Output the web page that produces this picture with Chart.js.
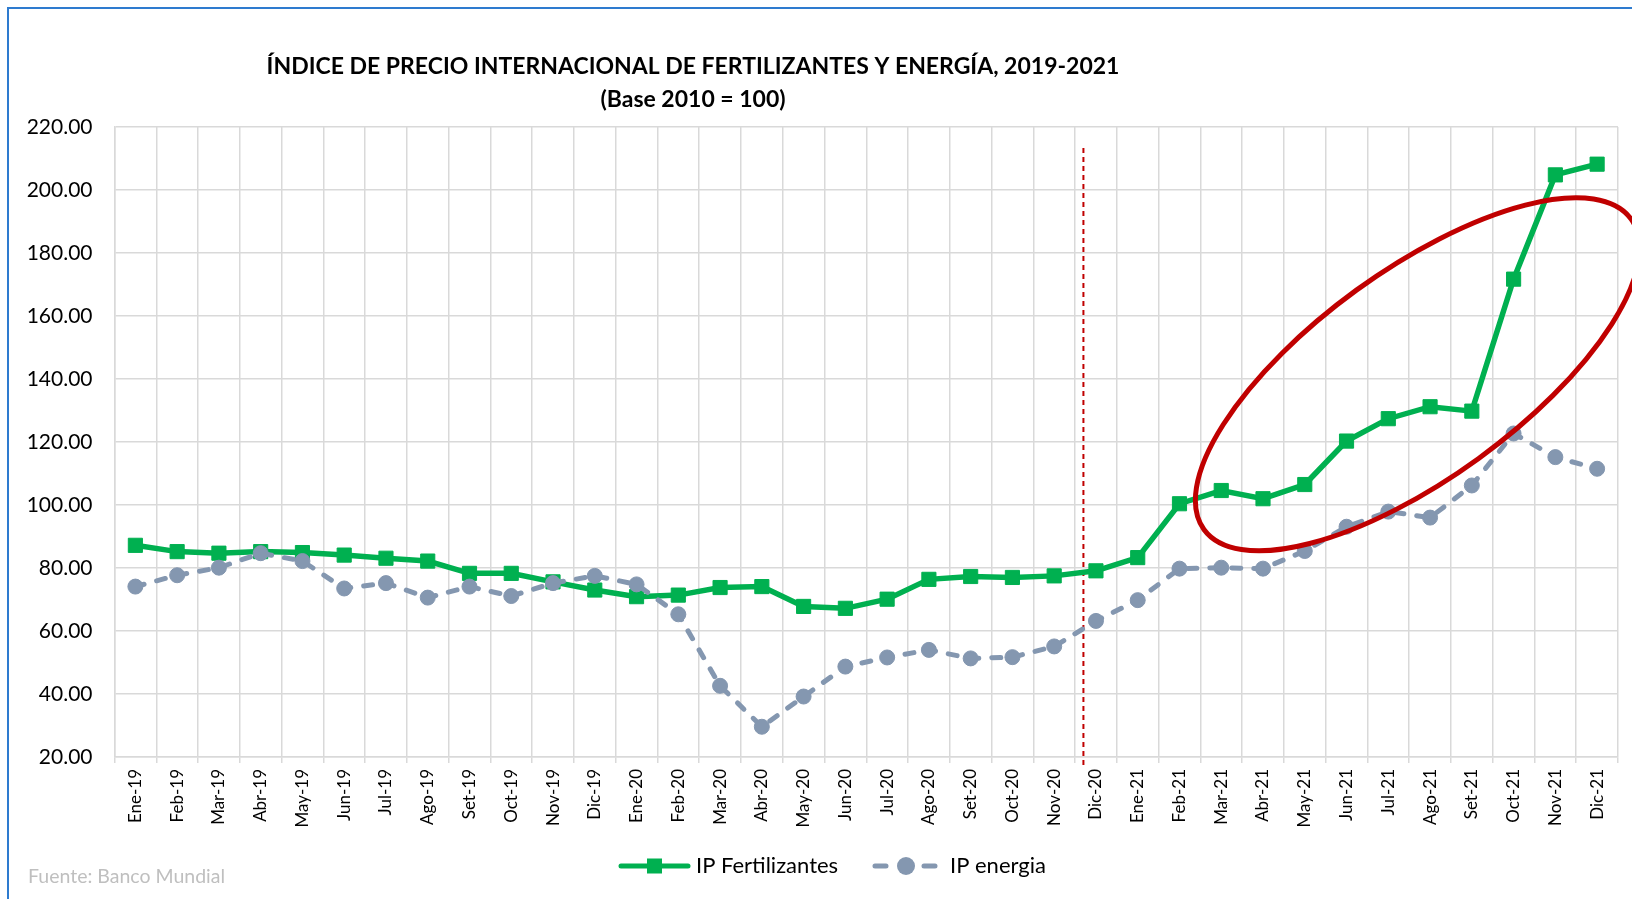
<!DOCTYPE html>
<html>
<head>
<meta charset="utf-8">
<script src="https://cdn.jsdelivr.net/npm/chart.js@4.4.0/dist/chart.umd.min.js"></script>
<style>
  html, body { margin: 0; padding: 0; background: #fff; }
  #wrap { position: relative; width: 1632px; height: 899px; }
</style>
</head>
<body>
<div id="wrap"><canvas id="chart" width="1632" height="899"></canvas></div>
<script>
const months = ['Ene-19', 'Feb-19', 'Mar-19', 'Abr-19', 'May-19', 'Jun-19', 'Jul-19', 'Ago-19', 'Set-19', 'Oct-19', 'Nov-19', 'Dic-19',
                'Ene-20', 'Feb-20', 'Mar-20', 'Abr-20', 'May-20', 'Jun-20', 'Jul-20', 'Ago-20', 'Set-20', 'Oct-20', 'Nov-20', 'Dic-20',
                'Ene-21', 'Feb-21', 'Mar-21', 'Abr-21', 'May-21', 'Jun-21', 'Jul-21', 'Ago-21', 'Set-21', 'Oct-21', 'Nov-21', 'Dic-21'];

const fertilizantes = [87.2, 85.2, 84.7, 85.2, 84.9, 84.1, 83.1, 82.2, 78.3, 78.3, 75.6, 73.0,
                       70.9, 71.4, 73.8, 74.1, 67.8, 67.2, 70.1, 76.4, 77.3, 77.0, 77.5, 79.1,
                       83.3, 100.4, 104.6, 102.0, 106.5, 120.3, 127.4, 131.2, 129.8, 171.7, 204.8, 208.2];

const energia = [74.1, 77.7, 80.1, 84.7, 82.2, 73.5, 75.2, 70.6, 74.1, 71.1, 75.2, 77.5,
                 74.8, 65.3, 42.6, 29.6, 39.2, 48.7, 51.6, 54.0, 51.3, 51.7, 55.1, 63.2,
                 69.8, 79.8, 80.1, 79.8, 85.4, 93.1, 97.9, 96.0, 106.2, 122.7, 115.2, 111.5];

const seriesNames = ['IP Fertilizantes', 'IP energia'];
const yMin = 20;
const yMax = 220;
const yStep = 20;

const titleLines = ['ÍNDICE DE PRECIO INTERNACIONAL DE FERTILIZANTES Y ENERGÍA, 2019-2021', '(Base 2010 = 100)'];
const sourceNote = 'Fuente: Banco Mundial';

// dashed divider between Nov-20 and Dic-20 (category position), top value
const dividerAt = 22.7;
const dividerTop = 213.3;
// red highlight ellipse centre (category position, value)
const highlightAt = { x: 30.7, y: 141.5 };

const GREEN = '#00B050';
const SLATE = '#8497B0';
const RED = '#C00000';

const decorations = {
    id: 'decorations',
    beforeDraw(chart) {
        const ctx = chart.ctx;
        ctx.save();
        ctx.fillStyle = '#fff';
        ctx.fillRect(0, 0, chart.width, chart.height);

        // frame of the chart object
        ctx.strokeStyle = '#2E7BCF';
        ctx.lineWidth = 2;
        ctx.strokeRect(8, 8, chart.width + 20, chart.height + 20);

        ctx.fillStyle = '#000';
        ctx.textAlign = 'center';
        ctx.textBaseline = 'middle';
        ctx.font = 'bold 23px Lato';
        ctx.fillText(titleLines[0], 693, 67);
        ctx.fillText(titleLines[1], 693, 100);

        ctx.fillStyle = '#BFBFBF';
        ctx.textAlign = 'left';
        ctx.font = '19.5px Lato';
        ctx.fillText(sourceNote, 28, 877);
        ctx.restore();
    },
    beforeDatasetsDraw(chart) {
        const { ctx, scales: { x, y }, chartArea } = chart;
        const px = x.getPixelForValue(dividerAt);
        ctx.save();
        ctx.strokeStyle = RED;
        ctx.lineWidth = 2;
        ctx.setLineDash([5, 4]);
        ctx.beginPath();
        ctx.moveTo(px, y.getPixelForValue(dividerTop));
        ctx.lineTo(px, chartArea.bottom + 8);
        ctx.stroke();
        ctx.restore();
    },
    afterDatasetsDraw(chart) {
        const { ctx, scales: { x, y } } = chart;
        const cx = x.getPixelForValue(highlightAt.x);
        const cy = y.getPixelForValue(highlightAt.y);
        ctx.save();
        ctx.strokeStyle = RED;
        ctx.lineWidth = 5;
        ctx.beginPath();
        ctx.ellipse(cx, cy, 264, 104, -36 * Math.PI / 180, 0, Math.PI * 2);
        ctx.stroke();
        ctx.restore();
    },
    afterDraw(chart) {
        const ctx = chart.ctx;
        const ds = chart.data.datasets;
        const cy = 866;
        ctx.save();
        ctx.lineCap = 'round';

        // fertilizantes: solid line with square marker
        ctx.strokeStyle = ds[0].borderColor;
        ctx.lineWidth = 5;
        ctx.beginPath();
        ctx.moveTo(621, cy);
        ctx.lineTo(688, cy);
        ctx.stroke();
        ctx.fillStyle = ds[0].backgroundColor;
        ctx.fillRect(647, cy - 7.5, 15, 15);

        // energia: dashed line with circle marker
        ctx.strokeStyle = ds[1].borderColor;
        ctx.beginPath();
        ctx.moveTo(875, cy);
        ctx.lineTo(886, cy);
        ctx.moveTo(924, cy);
        ctx.lineTo(935, cy);
        ctx.stroke();
        ctx.fillStyle = ds[1].backgroundColor;
        ctx.beginPath();
        ctx.arc(906, cy, 9, 0, Math.PI * 2);
        ctx.fill();

        ctx.fillStyle = '#000';
        ctx.font = '22px Lato';
        ctx.textAlign = 'left';
        ctx.textBaseline = 'middle';
        ctx.fillText(ds[0].label, 696, cy);
        ctx.fillText(ds[1].label, 950, cy);
        ctx.restore();
    }
};

const ctx = document.getElementById('chart').getContext('2d');

new Chart(ctx, {
    type: 'line',
    data: {
        labels: months,
        datasets: [
            {
                label: seriesNames[0],
                data: fertilizantes,
                borderColor: GREEN,
                backgroundColor: GREEN,
                borderWidth: 5.5,
                pointStyle: 'rect',
                pointRadius: 10,
                pointBorderWidth: 1,
                tension: 0,
                order: 1
            },
            {
                label: seriesNames[1],
                data: energia,
                borderColor: SLATE,
                backgroundColor: SLATE,
                borderWidth: 5,
                borderDash: [9, 13],
                borderCapStyle: 'round',
                pointStyle: 'circle',
                pointRadius: 7.5,
                pointBorderWidth: 1,
                tension: 0,
                order: 0
            }
        ]
    },
    options: {
        responsive: false,
        animation: false,
        layout: {
            padding: { top: 127, right: 14, bottom: 0, left: 0 }
        },
        plugins: {
            legend: { display: false },
            title: { display: false },
            tooltip: { enabled: false }
        },
        scales: {
            x: {
                offset: true,
                grid: {
                    color: '#D9D9D9',
                    lineWidth: 1.5,
                    offset: true,
                    drawTicks: true,
                    tickLength: 6
                },
                border: { color: '#D9D9D9', width: 1.5 },
                ticks: {
                    autoSkip: false,
                    minRotation: 90,
                    maxRotation: 90,
                    padding: 6,
                    color: '#000',
                    font: { family: 'Lato', size: 17 }
                },
                afterFit(scale) {
                    scale.height = 142;
                }
            },
            y: {
                min: yMin,
                max: yMax,
                grid: {
                    color: '#D9D9D9',
                    lineWidth: 1.5,
                    drawTicks: false
                },
                border: { color: '#D9D9D9', width: 1.5 },
                ticks: {
                    stepSize: yStep,
                    padding: 22,
                    color: '#000',
                    font: { family: 'Lato', size: 21 },
                    callback: v => v.toFixed(2)
                },
                afterFit(scale) {
                    scale.width = 114.5;
                }
            }
        }
    },
    plugins: [decorations]
});
</script>
</body>
</html>
